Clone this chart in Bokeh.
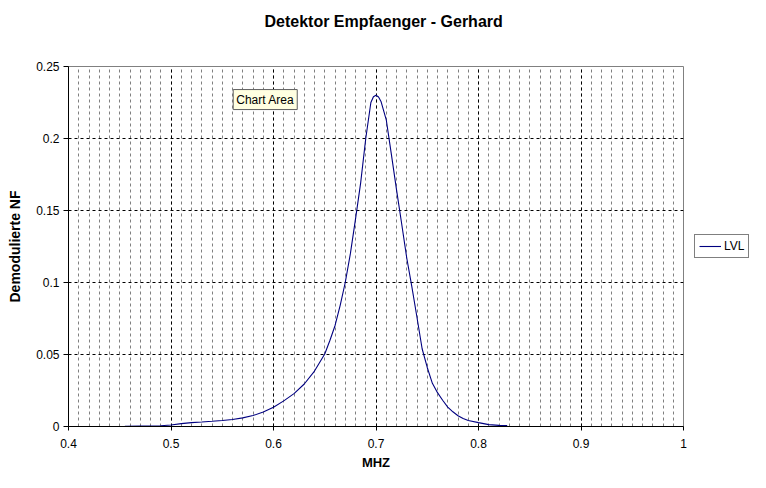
from bokeh.plotting import figure
from bokeh.layouts import row
from bokeh.models import Range1d, Legend, LegendItem, Label, SingleIntervalTicker, Title
from bokeh.embed import file_html
from bokeh.resources import INLINE

# Data
mhz = [0.455, 0.47, 0.49, 0.50, 0.51, 0.52, 0.53, 0.54, 0.55, 0.56, 0.57, 0.58, 0.59,
       0.60, 0.61, 0.62, 0.63, 0.64, 0.65, 0.655, 0.66, 0.665, 0.67, 0.675, 0.68, 0.685,
       0.69, 0.695, 0.6975, 0.70, 0.7025, 0.705, 0.71, 0.715, 0.72, 0.725, 0.73, 0.735,
       0.74, 0.745, 0.75, 0.755, 0.76, 0.765, 0.77, 0.775, 0.78, 0.785, 0.79, 0.80,
       0.81, 0.82, 0.828]
lvl = [0.0002, 0.0003, 0.0005, 0.0010, 0.0020, 0.0027, 0.0031, 0.0036, 0.0042, 0.0049,
       0.0060, 0.0076, 0.0100, 0.0134, 0.0178, 0.0228, 0.0295, 0.0385, 0.0503, 0.0597,
       0.0700, 0.0840, 0.1000, 0.1200, 0.1440, 0.1690, 0.2000, 0.2250, 0.2290, 0.2300,
       0.2288, 0.2255, 0.2130, 0.1890, 0.1645, 0.1410, 0.1170, 0.0970, 0.0757, 0.0540,
       0.0410, 0.0300, 0.0235, 0.0182, 0.0135, 0.0102, 0.0075, 0.0055, 0.0042, 0.0027,
       0.0013, 0.0008, 0.0007]
title_text = "Detektor Empfaenger - Gerhard"
x_label = "MHZ"
y_label = "Demodulierte NF"
series_name = "LVL"

FONT = "Liberation Sans"
NAVY = "#000080"

p = figure(width=688, height=472, output_backend="svg", toolbar_location=None,
           x_range=Range1d(0.4, 1.0), y_range=Range1d(0, 0.25),
           min_border_left=68, min_border_right=5, min_border_top=66, min_border_bottom=46)

# spacer between frame and title, then the title itself (outermost)
p.title = Title(text=title_text, align="left", offset=196, text_font=FONT,
                text_font_size="16px", text_font_style="bold", text_color="black", standoff=0)
p.add_layout(Title(text=" ", text_font=FONT, text_font_size="13px", standoff=20), "above")

p.background_fill_color = "white"
p.border_fill_color = "white"
p.outline_line_color = "#808080"
p.outline_line_width = 1

p.xaxis.ticker = SingleIntervalTicker(interval=0.1, num_minor_ticks=10)
p.yaxis.ticker = SingleIntervalTicker(interval=0.05, num_minor_ticks=0)

for ax in (p.xaxis[0], p.yaxis[0]):
    ax.axis_line_color = "black"
    ax.major_tick_line_color = "black"
    ax.major_tick_in = 0
    ax.minor_tick_line_color = None
    ax.major_label_text_font = FONT
    ax.major_label_text_font_size = "12px"
    ax.major_label_text_color = "black"
    ax.axis_label_text_font = FONT
    ax.axis_label_text_font_style = "bold"
    ax.axis_label_text_color = "black"

p.xaxis.major_tick_out = 4
p.yaxis.major_tick_out = 5
p.xaxis.axis_label = x_label
p.yaxis.axis_label = y_label
p.xaxis.axis_label_text_font_size = "13px"
p.yaxis.axis_label_text_font_size = "14px"
p.xaxis.major_label_standoff = 8
p.xaxis.axis_label_standoff = 4
p.yaxis.major_label_standoff = 4
p.yaxis.axis_label_standoff = 10
p.yaxis.major_label_orientation = "horizontal"

p.xgrid.grid_line_color = "black"
p.xgrid.grid_line_dash = "3 3"
p.xgrid.minor_grid_line_color = "#808080"
p.xgrid.minor_grid_line_dash = "3 3"
p.ygrid.grid_line_color = "black"
p.ygrid.grid_line_dash = "3 3"

p.line(mhz, lvl, line_color=NAVY, line_width=1.1)

tip = Label(x=0.5607, y=0.2201, text="Chart Area", text_font=FONT, text_font_size="12px",
            text_color="black", background_fill_color="#ffffe1", border_line_color="#606060",
            padding=3, text_baseline="bottom", text_align="left")
p.add_layout(tip)

# legend panel to the right of the chart
lg = figure(width=62, height=472, output_backend="svg", toolbar_location=None,
            x_range=Range1d(10, 11), y_range=Range1d(10, 11),
            x_axis_type=None, y_axis_type=None,
            min_border_left=0, min_border_right=0, min_border_top=0, min_border_bottom=0)
lg.outline_line_color = None
lg.grid.visible = False
lg.background_fill_color = "white"
lg.border_fill_color = "white"
lr = lg.line(mhz, lvl, line_color=NAVY, line_width=1.1)

legend = Legend(items=[LegendItem(label=series_name, renderers=[lr])],
                location=(6, 168), label_text_font=FONT, label_text_font_size="12px",
                label_text_color="black", border_line_color="black", border_line_width=1,
                glyph_width=22, glyph_height=14, padding=4, spacing=0, margin=0,
                label_standoff=3, label_height=14, background_fill_alpha=1)
lg.add_layout(legend)

layout = row(p, lg)
open("out.html", "w").write(file_html(layout, INLINE))
